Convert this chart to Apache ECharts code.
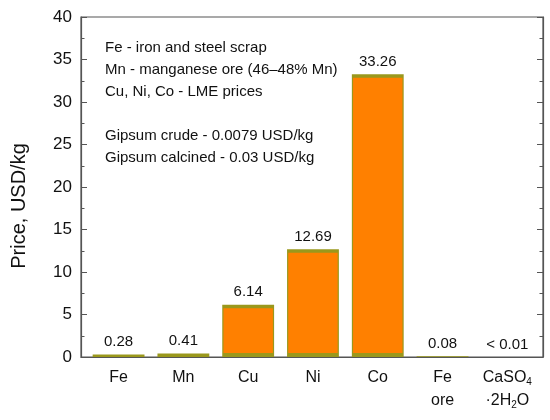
<!DOCTYPE html>
<html>
<head>
    <meta charset="utf-8">
    <script src="https://cdn.jsdelivr.net/npm/echarts@6/dist/echarts.min.js"></script>
    <style>
        html, body { margin: 0; padding: 0; background: #fff; }
        #chart { width: 550px; height: 420px; }
    </style>
</head>
<body>
<div id="chart"></div>
<script>
    // data
    var categories = ['Fe', 'Mn', 'Cu', 'Ni', 'Co', 'Fe\nore', 'CaSO4\n·2H2O'];
    var prices = [0.28, 0.41, 6.14, 12.69, 33.26, 0.08, 0.005];
    var priceLabels = ['0.28', '0.41', '6.14', '12.69', '33.26', '0.08', '< 0.01'];
    var notes = [
        'Fe - iron and steel scrap',
        'Mn - manganese ore (46\u201348% Mn)',
        'Cu, Ni, Co - LME prices',
        '',
        'Gipsum crude - 0.0079 USD/kg',
        'Gipsum calcined - 0.03 USD/kg'
    ];
    var yTicks = { min: 0, max: 40, step: 5 };

    var ORANGE = '#ff8000';
    var OLIVE = '#9a981c';
    var AXIS = '#555';
    var FONT = 'Arial, "Liberation Sans", sans-serif';

    var chart = echarts.init(document.getElementById('chart'));

    // bar = olive block with an orange inner block (band on top and bottom)
    function drawBar(params, api) {
        var idx = api.value(0);
        var val = api.value(1);
        var top = api.coord([idx, val]);
        var base = api.coord([idx, 0]);
        var w = api.size([1, 0])[0] * 0.8;
        var x = top[0] - w / 2;
        var h = base[1] - top[1];
        var kids = [{
            type: 'rect',
            shape: { x: x, y: top[1], width: w, height: h },
            style: { fill: OLIVE }
        }];
        if (h > 8) {
            kids.push({
                type: 'rect',
                shape: { x: x + 1.2, y: top[1] + 3.5, width: w - 2.4, height: h - 7.5 },
                style: { fill: ORANGE }
            });
        }
        kids.push({
            type: 'text',
            x: top[0],
            y: top[1] - 5,
            style: {
                text: priceLabels[idx],
                fill: '#111',
                font: '15px ' + FONT,
                align: 'center',
                verticalAlign: 'bottom'
            }
        });
        return { type: 'group', children: kids };
    }

    var option = {
        animation: false,
        textStyle: { fontFamily: FONT },
        grid: {
            left: 81, right: 7, top: 17, bottom: 63,
            show: true, borderColor: AXIS, borderWidth: 1.2, backgroundColor: 'transparent'
        },
        xAxis: {
            type: 'value',
            min: -0.58, max: 6.55,
            axisLine: { show: true, onZero: false, lineStyle: { color: AXIS, width: 1.2 } },
            axisTick: { show: false },
            splitLine: { show: false },
            axisLabel: {
                color: '#111',
                margin: 9,
                customValues: categories.map(function (c, i) { return i; }),
                formatter: function (v) {
                    var name = categories[Math.round(v)] || '';
                    if (name.indexOf('CaSO4') === 0) {
                        return '{n|CaSO}{s|4}\n{n|\u00b72H}{s|2}{n|O}';
                    }
                    return '{n|' + name.replace('\n', '}\n{n|') + '}';
                },
                rich: {
                    n: { fontSize: 16, color: '#111', lineHeight: 23 },
                    s: { fontSize: 10, color: '#111', lineHeight: 23, padding: [9, 0, 0, 0] }
                }
            }
        },
        yAxis: [{
            type: 'value',
            min: yTicks.min, max: yTicks.max, interval: yTicks.step,
            name: 'Price, USD/kg',
            nameLocation: 'middle',
            nameGap: 52,
            nameTextStyle: { fontSize: 20, color: '#111', padding: [0, 38, 0, 0] },
            axisLine: { show: true, onZero: false, lineStyle: { color: AXIS, width: 1.2 } },
            axisTick: { show: true, inside: true, length: 6, lineStyle: { color: AXIS } },
            minorTick: { show: true, splitNumber: 2, length: 3.5, lineStyle: { color: AXIS } },
            axisLabel: { color: '#111', fontSize: 17, margin: 9 },
            splitLine: { show: false }
        }, {
            type: 'value',
            position: 'right',
            min: yTicks.min, max: yTicks.max, interval: yTicks.step,
            axisLine: { show: true, onZero: false, lineStyle: { color: AXIS, width: 1.2 } },
            axisTick: { show: true, inside: true, length: 6, lineStyle: { color: AXIS } },
            minorTick: { show: true, splitNumber: 2, length: 3.5, lineStyle: { color: AXIS } },
            axisLabel: { show: false },
            splitLine: { show: false }
        }],
        graphic: [{
            type: 'text',
            left: 105,
            top: 37,
            style: {
                text: notes.join('\n'),
                fill: '#111',
                font: '15px ' + FONT,
                lineHeight: 22
            }
        }],
        series: [{
            type: 'custom',
            renderItem: drawBar,
            data: prices.map(function (p, i) { return [i, p]; }),
            encode: { x: 0, y: 1 }
        }]
    };

    chart.setOption(option);
</script>
</body>
</html>
